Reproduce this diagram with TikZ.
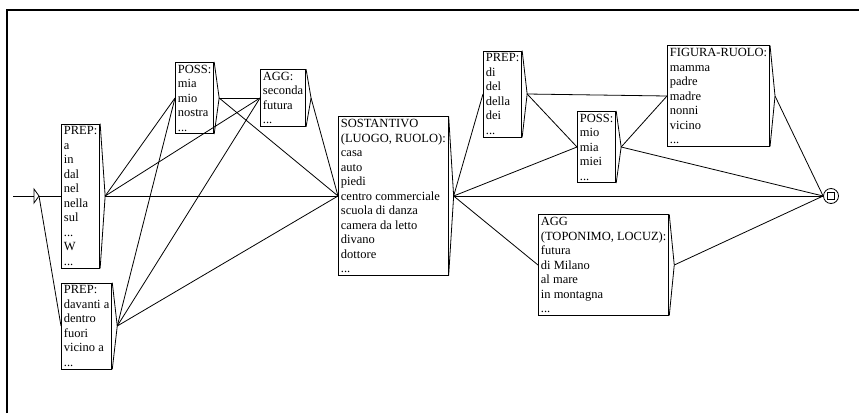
\documentclass[tikz,border=0pt]{standalone}
\usepackage{fontspec}
\setmainfont{Liberation Serif}
\usetikzlibrary{calc}

\begin{document}
\begin{tikzpicture}[x=1pt,y=-1pt,
    gbox/.style={draw,line width=0.8pt,anchor=west,align=left,inner xsep=2.5pt,inner ysep=2.5pt,font=\fontsize{12.5}{14.5}\selectfont},
    link/.style={line width=0.8pt}
  ]
    \useasboundingbox (0,0) rectangle (859,413);
    \draw[line width=2pt] (7,413) -- (7,10) -- (859,10);

    \coordinate (in) at (13,196);
    \coordinate (s0) at (39,196);
    \draw[link] (in) -- (34,196);
    \draw[link] (34,189) -- (s0) -- (34,203) -- cycle;

    \node[gbox] (p1) at (61,196) {PREP:\\a\\in\\dal\\nel\\nella\\sul\\...\\W\\...};
    \node[gbox] (p2) at (61,326) {PREP:\\davanti a\\dentro\\fuori\\vicino a\\...};
    \node[gbox] (poss1) at (175,98) {POSS:\\mia\\mio\\nostra\\...};
    \node[gbox] (agg1) at (260,98) {AGG:\\seconda\\futura\\...};
    \node[gbox] (sost) at (338,196) {SOSTANTIVO\\(LUOGO, RUOLO):\\casa\\auto\\piedi\\centro commerciale\\scuola di danza\\camera da letto\\divano\\dottore\\...};
    \node[gbox] (prep3) at (483,94) {PREP:\\di\\del\\della\\dei\\...};
    \node[gbox] (poss2) at (577,147) {POSS:\\mio\\mia\\miei\\...};
    \node[gbox] (fig) at (667,96) {FIGURA-RUOLO:\\mamma\\padre\\madre\\nonni\\vicino\\...};
    \node[gbox] (agg2) at (538,265) {AGG\\(TOPONIMO, LOCUZ):\\futura\\di Milano\\al mare\\in montagna\\...};

    \node[circle,draw,line width=0.8pt,minimum size=15pt,inner sep=0pt] (fin) at (831,196) {};
    \node[draw,line width=0.8pt,minimum size=7pt,inner sep=0pt] (finsq) at (fin) {};

    \foreach \n in {p1,p2,poss1,agg1,sost,prep3,poss2,fig,agg2}
      \draw[link] (\n.north east) -- ($(\n.east)+(5,0)$) coordinate (\n-o) -- (\n.south east);

    \draw[link] (s0) -- (p1.west);
    \draw[link] (s0) -- (p2.west);
    \foreach \a in {p1,p2} {
      \draw[link] (\a-o) -- (poss1.west);
      \draw[link] (\a-o) -- (agg1.west);
      \draw[link] (\a-o) -- (sost.west);
    }
    \draw[link] (poss1-o) -- (agg1.west);
    \draw[link] (poss1-o) -- (sost.west);
    \draw[link] (agg1-o) -- (sost.west);
    \draw[link] (sost-o) -- (prep3.west);
    \draw[link] (sost-o) -- (poss2.west);
    \draw[link] (sost-o) -- (agg2.west);
    \draw[link] (sost-o) -- (fin.west);
    \draw[link] (prep3-o) -- (fig.west);
    \draw[link] (prep3-o) -- (poss2.west);
    \draw[link] (poss2-o) -- (fig.west);
    \draw[link] (poss2-o) -- (fin.west);
    \draw[link] (fig-o) -- (fin.west);
    \draw[link] (agg2-o) -- (fin.west);
\end{tikzpicture}
\end{document}
